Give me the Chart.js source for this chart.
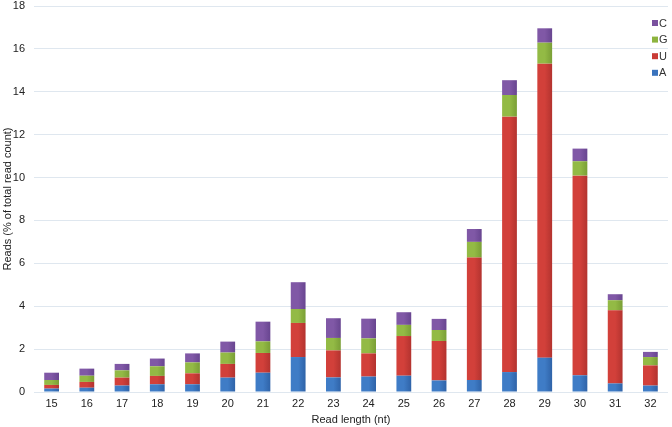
<!DOCTYPE html>
<html>
<head>
<meta charset="utf-8">
<script src="https://cdn.jsdelivr.net/npm/chart.js@4"></script>
<style>
  html, body { margin: 0; padding: 0; background: #fff; }
  #wrap { width: 672px; height: 427px; position: relative; }
</style>
</head>
<body>
<div id="wrap"><canvas id="readChart"></canvas></div>
<script>
const lengths = ['15', '16', '17', '18', '19', '20', '21', '22', '23', '24', '25', '26', '27', '28', '29', '30', '31', '32'];
const readsA = [0.16, 0.20, 0.30, 0.36, 0.36, 0.67, 0.90, 1.63, 0.68, 0.72, 0.76, 0.54, 0.56, 0.93, 1.60, 0.78, 0.40, 0.30];
const readsU = [0.17, 0.27, 0.37, 0.39, 0.51, 0.64, 0.92, 1.59, 1.26, 1.08, 1.85, 1.84, 5.71, 11.91, 13.71, 9.31, 3.41, 0.94];
const readsG = [0.23, 0.29, 0.34, 0.45, 0.51, 0.53, 0.54, 0.65, 0.58, 0.70, 0.52, 0.51, 0.73, 1.01, 0.98, 0.67, 0.47, 0.39];
const readsC = [0.34, 0.33, 0.30, 0.36, 0.42, 0.51, 0.92, 1.25, 0.92, 0.92, 0.59, 0.52, 0.60, 0.69, 0.67, 0.59, 0.28, 0.24];

const BAR_PCT = 0.42;

// horizontal shading across each bar, light on the left, darker on the right
function shade(light, dark) {
  return function(context) {
    const chart = context.chart;
    const area = chart.chartArea;
    if (!area || context.dataIndex === undefined) return light;
    const xScale = chart.scales.x;
    const cx = xScale.getPixelForValue(context.dataIndex);
    const half = (area.width / lengths.length) * BAR_PCT / 2;
    const g = chart.ctx.createLinearGradient(cx - half, 0, cx + half, 0);
    g.addColorStop(0, light);
    g.addColorStop(0.5, light);
    g.addColorStop(1, dark);
    return g;
  };
}

const legendPlugin = {
  id: 'cornerLegend',
  afterDraw(chart) {
    const ctx = chart.ctx;
    const items = chart.data.datasets.slice().reverse();
    ctx.save();
    ctx.font = '11px "Liberation Sans", Arial, sans-serif';
    ctx.textBaseline = 'middle';
    items.forEach((ds, i) => {
      const y = 23 + i * 16.6;
      ctx.fillStyle = ds.legendColor;
      ctx.fillRect(652, y - 3, 6, 6);
      ctx.fillStyle = '#333';
      ctx.fillText(ds.label, 659, y + 0.5);
    });
    ctx.restore();
  }
};

const ctx = document.getElementById('readChart');
new Chart(ctx, {
  type: 'bar',
  data: {
    labels: lengths,
    datasets: [
      { label: 'A', data: readsA, backgroundColor: shade('#3f7cc6', '#2f63a8'), legendColor: '#3a73bd' },
      { label: 'U', data: readsU, backgroundColor: shade('#d2403a', '#b3332f'), legendColor: '#c93a35' },
      { label: 'G', data: readsG, backgroundColor: shade('#93ba45', '#7a9f36'), legendColor: '#8db43e' },
      { label: 'C', data: readsC, backgroundColor: shade('#8058a6', '#684590'), legendColor: '#7a519e' }
    ]
  },
  options: {
    responsive: true,
    maintainAspectRatio: false,
    animation: false,
    datasets: {
      bar: { categoryPercentage: 1, barPercentage: BAR_PCT, borderWidth: 0 }
    },
    layout: { padding: { top: 6, right: 4, left: 0, bottom: 0 } },
    scales: {
      x: {
        stacked: true,
        grid: { display: false, drawTicks: false },
        border: { display: false },
        ticks: { color: '#222', font: { size: 11, family: '"Liberation Sans", Arial, sans-serif' }, padding: 5 },
        title: {
          display: true,
          text: 'Read length (nt)',
          color: '#222',
          font: { size: 11, family: '"Liberation Sans", Arial, sans-serif' },
          padding: { top: 2, bottom: 0 }
        },
        afterFit(scale) { scale.height = 35; }
      },
      y: {
        stacked: true,
        min: 0,
        max: 18,
        ticks: { stepSize: 2, color: '#222', font: { size: 11, family: '"Liberation Sans", Arial, sans-serif' }, padding: 9 },
        grid: { color: '#dfe7ef', drawTicks: false },
        border: { display: false },
        title: {
          display: true,
          text: 'Reads (% of total read count)',
          color: '#222',
          font: { size: 11, family: '"Liberation Sans", Arial, sans-serif' },
          padding: { top: 1, bottom: 0 }
        },
        afterFit(scale) {
          scale.width = 34;
          scale.paddingTop = 0;
          scale.paddingBottom = 0;
        }
      }
    },
    plugins: {
      legend: { display: false },
      tooltip: { enabled: false }
    }
  },
  plugins: [legendPlugin]
});
</script>
</body>
</html>
